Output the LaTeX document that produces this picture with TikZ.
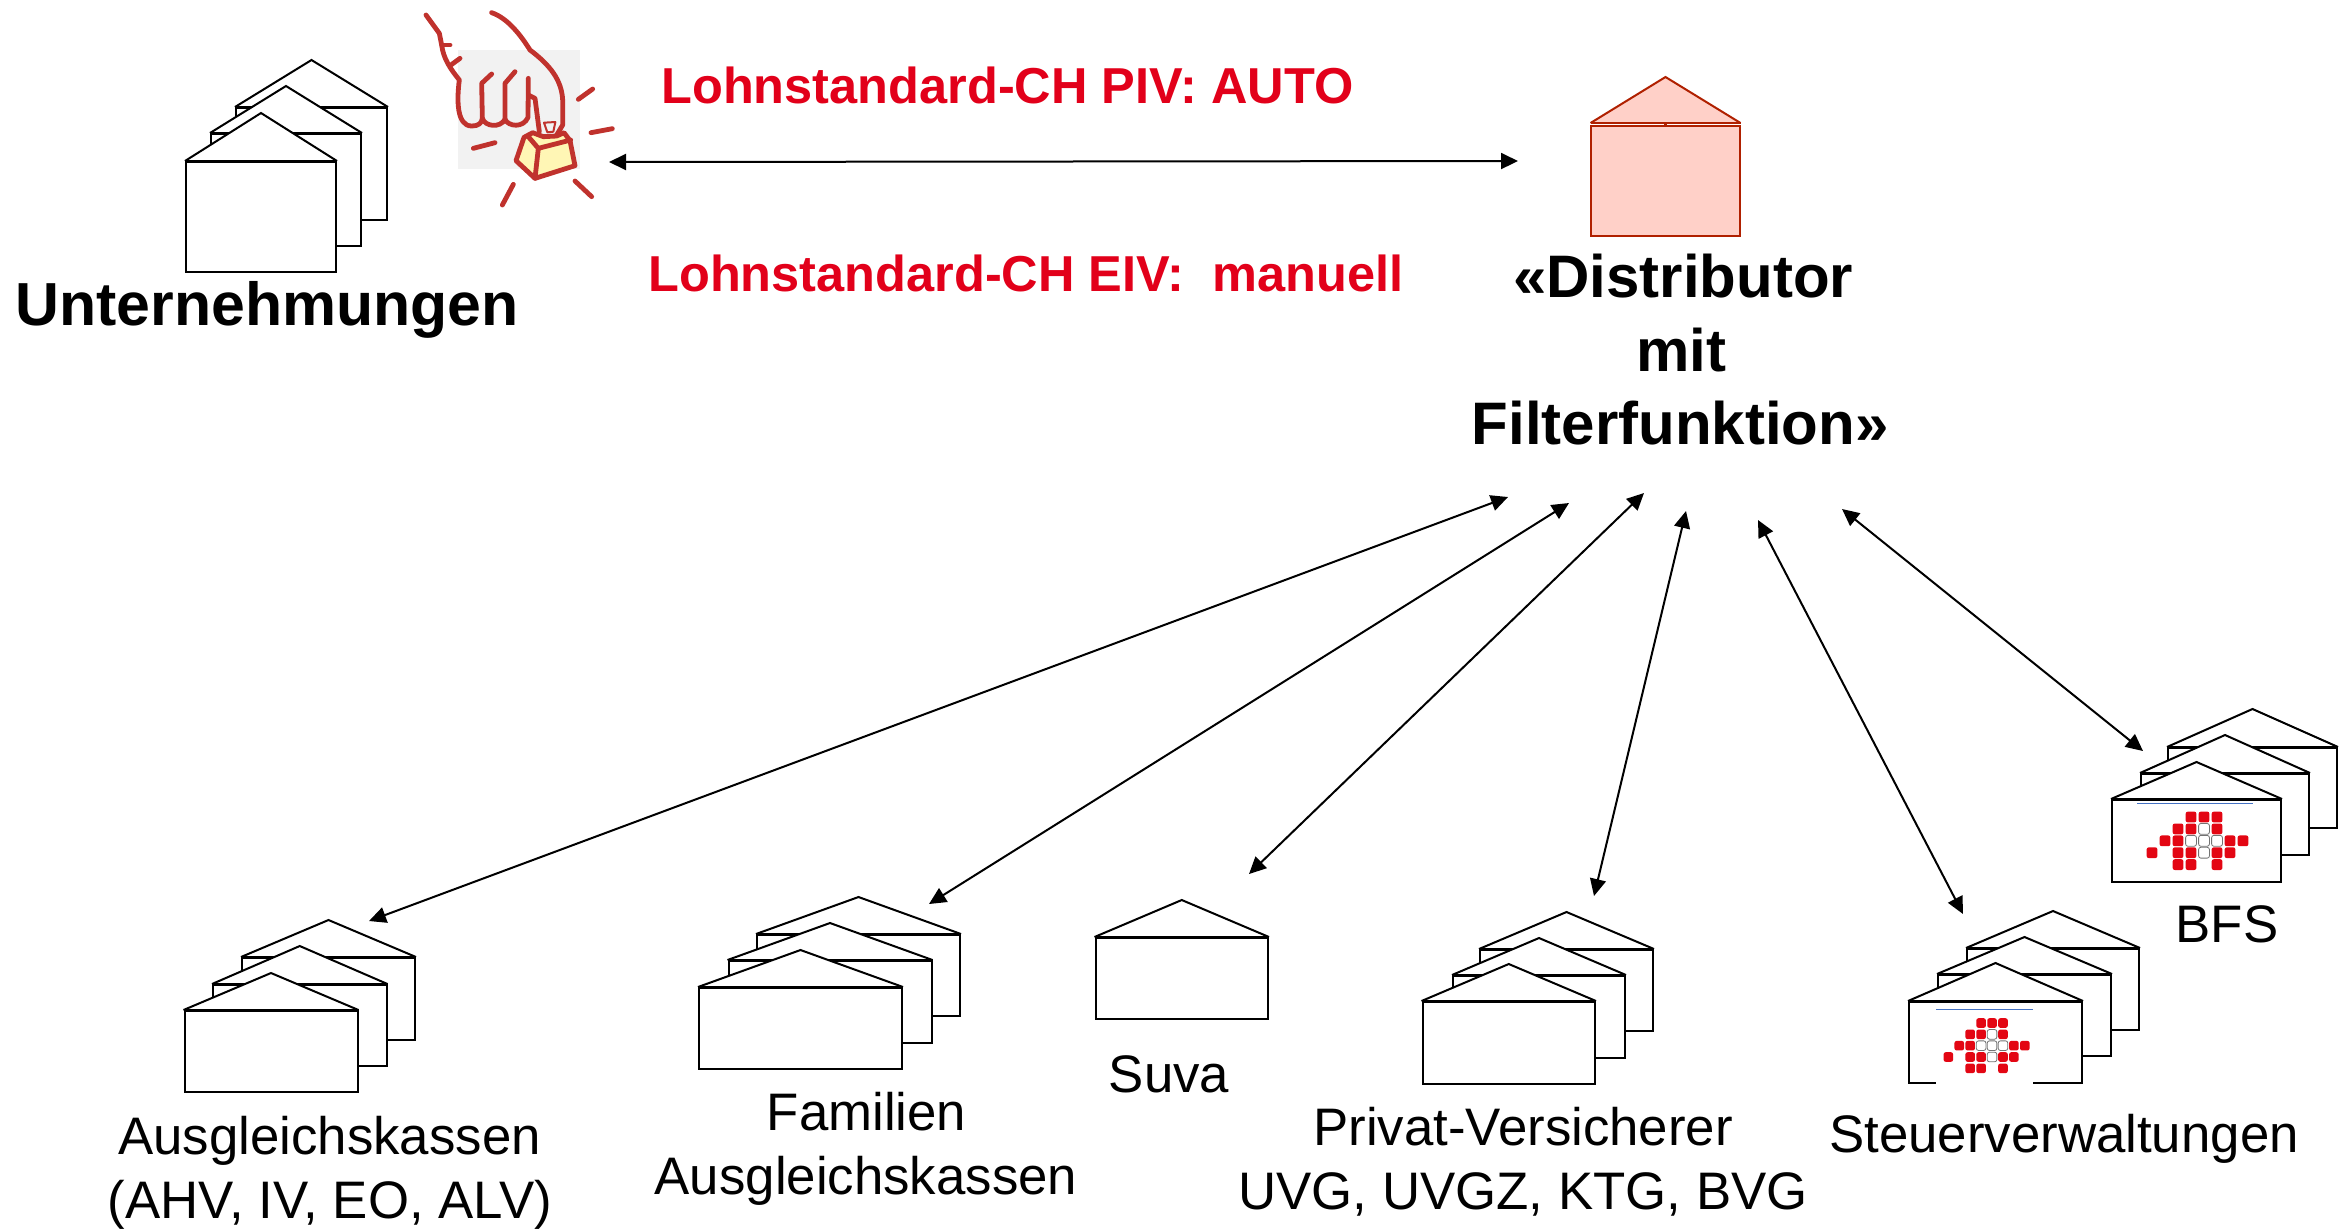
\documentclass[tikz,border=0pt]{standalone}
\usepackage{fontspec}
\setmainfont{Liberation Sans}
\usetikzlibrary{arrows.meta}
\definecolor{redtxt}{HTML}{E2001A}
\definecolor{handred}{HTML}{C0322D}
\definecolor{keyfill}{HTML}{FFF6B5}
\definecolor{distfill}{HTML}{FFD0C8}
\definecolor{diststroke}{HTML}{B02000}
\definecolor{logored}{HTML}{E30613}
\definecolor{logoblue}{HTML}{4472C4}
\tikzset{
  wall/.style={draw=black,fill=white,line width=1pt,line join=miter},
  eaveline/.style={draw=black,line width=1.5pt},
  link/.style={draw=black,line width=1pt,{Triangle[length=8.5pt,width=8pt]}-{Triangle[length=8.5pt,width=8pt]},shorten <=0pt,shorten >=0pt},
  plainlabel/.style={anchor=base,inner sep=0pt,font=\fontsize{26.4pt}{26.4pt}\selectfont,text=black},
  boldlabel/.style={anchor=base,inner sep=0pt,font=\fontsize{30pt}{30pt}\selectfont\bfseries,text=black},
  biglabel/.style={anchor=base,inner sep=0pt,font=\fontsize{30.4pt}{30.4pt}\selectfont\bfseries,text=black},
  redlabel/.style={anchor=base west,inner sep=0pt,font=\fontsize{25.25pt}{25.25pt}\selectfont\bfseries,text=redtxt},
  handline/.style={draw=handred,line width=2.4pt,line cap=round,line join=round},
  logodot/.style={fill=logored,rounded corners=1.1pt},
  logohole/.style={draw=black!55,fill=white,line width=.4pt,rounded corners=1.1pt}
}
% x0 x1 apex eave bottom
\newcommand{\hs}[5]{%
  \pgfmathsetmacro{\hsmid}{(#1+#2)/2}%
  \pgfmathsetmacro{\hsa}{#1-1}%
  \pgfmathsetmacro{\hsb}{#2+1}%
  \path[wall] (#1,#4) rectangle (#2,#5);
  \path[wall] (\hsa,#4) -- (\hsmid,#3) -- (\hsb,#4);
  \path[eaveline] (\hsa,#4) -- (\hsb,#4);
}
\newcommand{\swissdot}[4]{%
  \pgfmathsetmacro{\sdx}{\lgx+#1*\lgdx}%
  \pgfmathsetmacro{\sdy}{\lgy+#2*\lgdy}%
  \path[#3] (\sdx-\lgs,\sdy-\lgs) rectangle (\sdx+\lgs,\sdy+\lgs);
}
\newcommand{\swisslogo}[5]{%
  \def\lgx{#1}\def\lgy{#2}\def\lgdx{#3}\def\lgdy{#4}\def\lgs{#5}%
  \foreach \c/\r in {3/0,4/0,5/0,2/1,3/1,5/1,1/2,2/2,6/2,7/2,0/3,2/3,3/3,5/3,6/3,2/4,3/4,5/4}{\swissdot{\c}{\r}{logodot}{}}%
  \foreach \c/\r in {4/1,3/2,4/2,5/2,4/3}{\swissdot{\c}{\r}{logohole}{}}%
}
\begin{document}
\begin{tikzpicture}[x=.5pt,y=-.5pt]
\useasboundingbox (0,0) rectangle (2343,1228);
\fill[white] (0,0) rectangle (2343,1228);

% Unternehmungen
\hs{236}{387}{60}{107}{220}
\hs{211}{361}{86}{133}{246}
\hs{186}{336}{113}{161}{272}

% Distributor
\path[draw=diststroke,fill=distfill,line width=1pt] (1591,126) rectangle (1740,236);
\path[draw=diststroke,fill=distfill,line width=1pt] (1590.5,123) -- (1665.5,77) -- (1740.5,123);
\path[draw=diststroke,line width=1pt] (1590.5,123) -- (1740.5,123);
\fill[diststroke] (1664,122) rectangle (1667,127);

% Lower groups
\hs{242}{415}{920}{957}{1040}
\hs{213}{386.5}{946}{984}{1066}
\hs{184.5}{357.5}{973}{1010}{1092}

\hs{757}{960}{897}{934}{1016}
\hs{728.5}{931.5}{923}{960}{1043}
\hs{699}{902}{950}{987}{1069}

\hs{1095.5}{1268}{900}{937}{1019}

\hs{1480}{1653}{912}{949}{1031}
\hs{1453}{1625}{938}{975}{1058}
\hs{1422.5}{1595}{964}{1001}{1084}

\hs{1967}{2139}{911}{948}{1030}
\hs{1938}{2111}{937}{974}{1056}
\hs{1909}{2082}{963}{1001}{1083}
\fill[white] (1936,1003) rectangle (2033,1086);
\draw[logoblue,line width=.5pt] (1936,1009) -- (2033,1009);
\swisslogo{1948.3}{1023}{10.93}{11.33}{4.8}

\hs{2168}{2337}{709}{747}{828}
\hs{2141}{2309}{735}{773}{855}
\hs{2112}{2281}{762}{799}{882}
\draw[logoblue,line width=.5pt] (2137,803) -- (2253,803);
\swisslogo{2152}{817}{13}{11.9}{5.4}

% Hand pressing a key (drawn in 3x crop pixels of the source)
\begin{scope}[xshift=200pt,x=.16667pt,y=-.16667pt]
  \fill[black!5] (175,150) rectangle (540,508);
  \path[handline] (78,45) -- (118,100) -- (125,135) .. controls (130,175) and (150,205) .. (178,240)
     .. controls (170,300) and (170,378) .. (215,378)
     .. controls (235,378) and (245,370) .. (247,355) -- (245,250) -- (275,222);
  \path[handline] (247,355) .. controls (255,380) and (300,385) .. (315,358) -- (315,250) -- (345,215);
  \path[handline] (315,358) .. controls (325,380) and (370,385) .. (384,352) -- (385,235);
  \path[handline] (385,285) -- (405,295) -- (418,395);
  \path[handline] (275,38) .. controls (325,55) and (365,110) .. (390,150)
     .. controls (450,195) and (485,240) .. (488,300) -- (488,375) -- (470,405);
  \path[handline] (125,135) -- (150,135);
  \path[handline] (150,197) -- (180,175);
  \path[handline,line width=1pt] (432,368) -- (466,366) -- (460,395) -- (442,397) -- cycle;
  \path[handline,fill=keyfill] (348,482) -- (372,412) -- (398,398) -- (430,410) -- (470,408) -- (492,398) -- (510,422) -- (525,497) -- (405,535) -- cycle;
  \path[handline] (385,410) -- (415,445) -- (405,535);
  \path[handline] (415,445) -- (512,420);
  \path[handline] (535,298) -- (578,267);
  \path[handline] (573,398) -- (637,386);
  \path[handline] (220,445) -- (285,428);
  \path[handline] (525,543) -- (575,590);
  \path[handline] (340,553) -- (307,615);
\end{scope}

% Labels
\node[biglabel] (unt) at (267,325) {Unternehmungen};
\node[redlabel] (piv) at (661,103) {Lohnstandard-CH PIV: AUTO};
\node[redlabel] (eiv) at (648,291) {Lohnstandard-CH EIV:\ \ manuell};
\node[boldlabel] (d1) at (1683,297.5) {«Distributor};
\node[boldlabel] (d2) at (1681,371) {mit};
\node[boldlabel] (d3) at (1680,444) {Filterfunktion»};
\node[plainlabel] (a1) at (329.5,1154) {Ausgleichskassen};
\node[plainlabel] (a2) at (330,1218) {(AHV, IV, EO, ALV)};
\node[plainlabel] (f1) at (866.5,1130.5) {Familien};
\node[plainlabel] (f2) at (866,1194.5) {Ausgleichskassen};
\node[plainlabel] (s1) at (1169,1092) {Suva};
\node[plainlabel] (p1) at (1523,1145.5) {Privat-Versicherer};
\node[plainlabel] (p2) at (1523,1209.5) {UVG, UVGZ, KTG, BVG};
\node[plainlabel] (st) at (2064,1152) {Steuerverwaltungen};
\node[plainlabel] (bf) at (2227,942) {BFS};

% Connector ends
\coordinate (hub1) at (1508,497);
\coordinate (hub2) at (1569,503);
\coordinate (hub3) at (1644,493);
\coordinate (hub4) at (1686,511);
\coordinate (hub5) at (1758,520);
\coordinate (hub6) at (1842,509);
\coordinate (ausg) at (369,921);
\coordinate (fami) at (929,904);
\coordinate (suva) at (1249,874);
\coordinate (priv) at (1594,896);
\coordinate (steu) at (1963,914);
\coordinate (bfsx) at (2143,751);
\coordinate (unth) at (609,162);
\coordinate (dist) at (1518,161);

\draw[link] (unth) -- (dist);
\draw[link] (ausg) -- (hub1);
\draw[link] (fami) -- (hub2);
\draw[link] (suva) -- (hub3);
\draw[link] (priv) -- (hub4);
\draw[link] (steu) -- (hub5);
\draw[link] (bfsx) -- (hub6);
\end{tikzpicture}
\end{document}
